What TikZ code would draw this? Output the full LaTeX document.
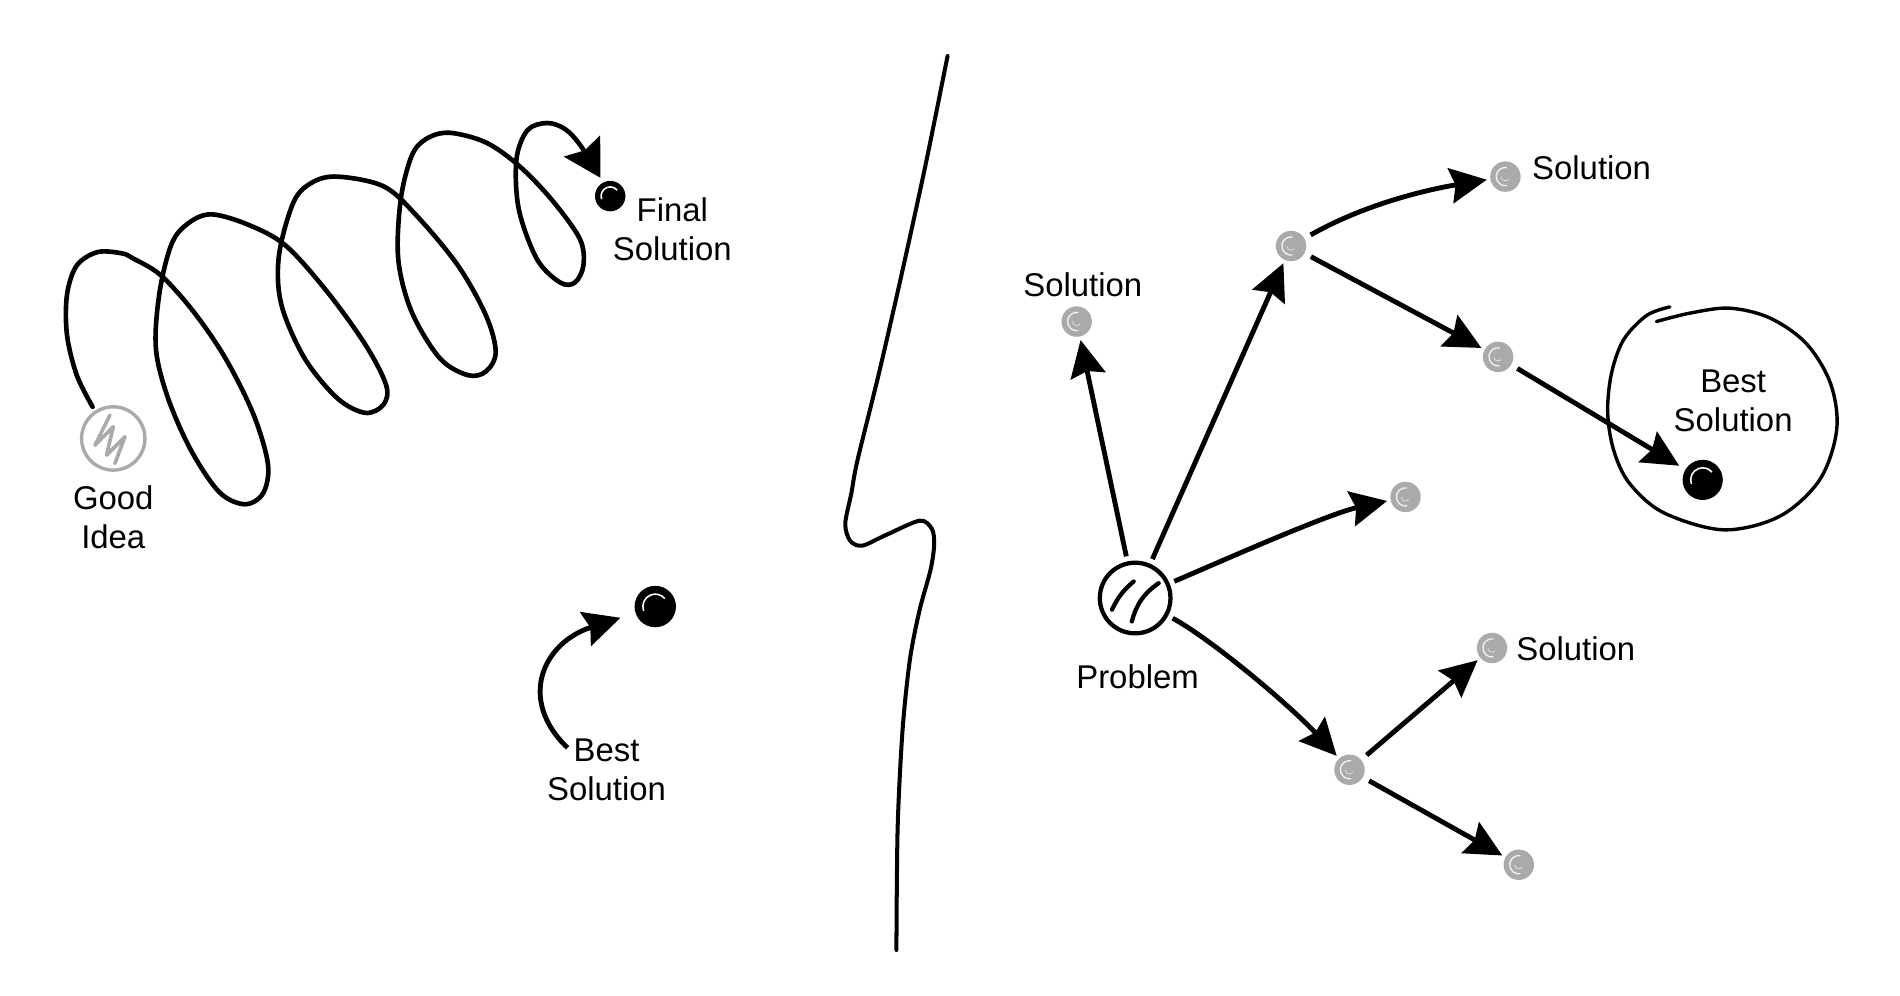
\documentclass[tikz,border=0pt]{standalone}
\usepackage{fontspec}
\setmainfont{Liberation Sans}
\usepackage{tikz}
\usetikzlibrary{arrows.meta,positioning}
\definecolor{dotgray}{RGB}{170,170,170}

\begin{document}
\begin{tikzpicture}[x=1pt,y=-1pt,
  font=\fontsize{27}{32}\selectfont,
  every node/.style={inner sep=0pt,outer sep=0pt},
  lbl/.style={align=center},
  arr/.style={line width=4pt,-{Stealth[length=30pt,width=29pt,inset=4pt]},shorten <=6pt,shorten >=3pt},
  soln/.style={circle,fill=dotgray,minimum size=25pt,
    path picture={
      \draw[white!85!dotgray,line width=1.1pt] (path picture bounding box.center) ++(80:7.5pt) arc[start angle=80,end angle=280,radius=7.5pt];
      \draw[white!70!dotgray,line width=0.6pt] (path picture bounding box.center) ++(180:3.5pt) arc[start angle=180,end angle=320,radius=3.5pt];}},
  dot/.style={circle,fill=black,minimum size=#1,
    path picture={
      \draw[white,line width=1.3pt] (path picture bounding box.center) ++(200:0.3*#1) arc[start angle=200,end angle=40,radius=0.3*#1];}},
  idea/.style={circle,draw=dotgray,line width=2.8pt,minimum size=52pt,
    path picture={
      \draw[dotgray,line width=3pt,line join=round,line cap=round] (path picture bounding box.center)
        ++(-2.7pt,19.2pt) -- ++(-12.3pt,-24.7pt) -- ++(15pt,15.1pt) -- ++(-5.5pt,-23.3pt) -- ++(15.1pt,15.1pt) -- ++(-8.2pt,-21.9pt);}},
  prob/.style={circle,draw,line width=3.5pt,minimum size=58pt,
    path picture={
      \draw[line width=3.5pt,line cap=round] (path picture bounding box.center) ++(-19pt,-9.6pt) to[bend left=12] ++(17.8pt,23.2pt);
      \draw[line width=3.5pt,line cap=round] (path picture bounding box.center) ++(-2.7pt,-19.2pt) to[bend left=20] ++(22pt,31.4pt);}}]

\useasboundingbox (0,0) rectangle (1560,817);

% Left: the spiral
\node[idea] (idea) at (93,360) {};
\node[lbl] (idealbl) at (93,425) {Good\\Idea};
\node[dot=25pt] (fin) at (501,161) {};
\node[lbl] (finlbl) at (552,188) {Final\\Solution};

\draw[line width=3.8pt,line cap=round,-{Stealth[length=30pt,width=34pt,inset=4pt]}] plot[smooth,tension=0.55] coordinates {
  (76,334) (63,308) (55,275) (55,242) (63,218) (80,207) (100,208) (109,212) (132,226) (159,256) (185,294) (208,340) (220,381)
  (216,405) (201,414) (180,404) (157,370) (138,327) (128,286) (131,240) (141,200) (155,183) (174,176)
  (205,185) (235,202) (269,240) (300,283) (317,316) (315,332) (300,339) (277,327) (250,294) (231,250) (229,210) (241,166) (256,150) (277,145)
  (315,153) (342,177) (376,218) (399,259) (407,289) (399,305) (384,308) (361,294) (338,256) (327,213) (329,164) (338,128) (350,114) (369,109)
  (399,117) (426,136) (453,164) (476,196) (479,218) (472,232) (460,232) (441,213) (426,172) (424,131) (433,107) (449,101) (464,106) (477,120) (493,146)};

% Left: best solution
\node[dot=34pt] (bestl) at (538,498) {};
\node[lbl] (bestllbl) at (498,632) {Best\\Solution};
\coordinate (bestltail) at (466,614);
\draw[arr,shorten <=0pt,shorten >=13pt] (bestltail) .. controls (425,575) and (445,528) .. (bestl);

% Divider
\draw[line width=3.3pt,line cap=round] plot[smooth,tension=0.5] coordinates {
  (778,46) (760,135) (741,222) (722,305) (704,378) (699,405) (694,430) (698,444) (708,448) (728,439) (755,427.5)
  (765,434) (767,447) (764,468) (755,501) (747,542) (741,600) (737,680) (736,780)};

% Right: problem and solutions
\node[prob] (prob) at (932,491) {};
\node (problbl) at (934,556) {Problem};
\node[soln] (s1) at (884,264) {};
\node (s1lbl) at (889,234) {Solution};
\node[soln] (a) at (1060,202) {};
\node[soln] (s2) at (1236,145) {};
\node[anchor=west] (s2lbl) at (1258,138) {Solution};
\node[soln] (b) at (1230,293) {};
\node[dot=33pt] (bestr) at (1398,394) {};
\node[lbl] (bestrlbl) at (1423,329) {Best\\Solution};
\node[soln] (c) at (1154,408) {};
\node[soln] (d) at (1108,632) {};
\node[soln] (s3) at (1225,532) {};
\node[anchor=west] (s3lbl) at (1245,533) {Solution};
\node[soln] (e) at (1247,710) {};

% Circle round the best one
\draw[line width=2.8pt,line cap=round] plot[smooth,tension=0.55] coordinates {
  (1371,252) (1352,259) (1333,279) (1323,307) (1320,339) (1325,370) (1338,397) (1366,421) (1415,435) (1461,424)
  (1494,394) (1508,353) (1503,315) (1483,282) (1453,261) (1420,253) (1388,257) (1360,264)};

% Arrows
\draw[arr] (prob) -- (s1);
\draw[arr] (prob) -- (a);
\draw[arr] (a) .. controls (1120,168) and (1170,156) .. (s2);
\draw[arr] (a) -- (b);
\draw[arr,shorten >=6pt] (b) -- (bestr);
\draw[arr] (prob) .. controls (1000,462) and (1090,422) .. (c);
\draw[arr] (prob) .. controls (995,525) and (1060,580) .. (d);
\draw[arr] (d) -- (s3);
\draw[arr] (d) -- (e);

\end{tikzpicture}
\end{document}
